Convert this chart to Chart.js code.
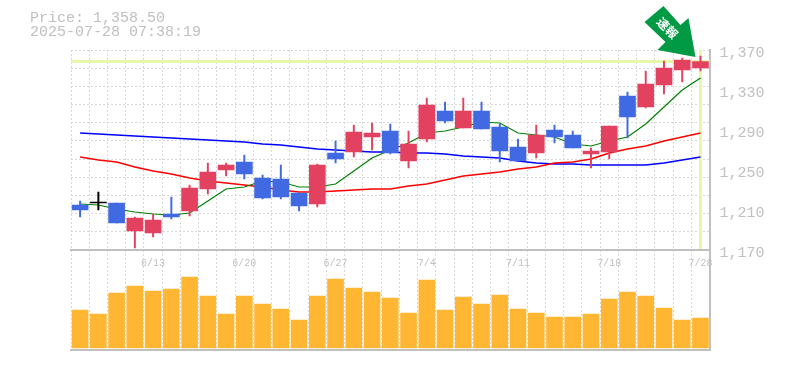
<!DOCTYPE html>
<html>
<head>
<meta charset="utf-8">
<script src="https://cdn.jsdelivr.net/npm/chart.js@4"></script>
<style>
  html, body { margin: 0; padding: 0; background: #fff; }
  #wrap { position: relative; width: 785px; height: 370px; }
  #info { position: absolute; left: 30px; top: 12px; font: 15px/14px "Liberation Mono", monospace; color: #c0c0c0; white-space: pre; }
</style>
</head>
<body>
<div id="wrap">
  <canvas id="myChart" width="785" height="370"></canvas>
  <div id="info">Price: 1,358.50
2025-07-28 07:38:19</div>
</div>
<script>
const dates = ['6/9','6/10','6/11','6/12','6/13','6/16','6/17','6/18','6/19','6/20','6/23','6/24','6/25','6/26','6/27','6/30','7/1','7/2','7/3','7/4','7/7','7/8','7/9','7/10','7/11','7/14','7/15','7/16','7/17','7/18','7/22','7/23','7/24','7/25','7/28'];
const shownDates = ['6/13','6/20','6/27','7/4','7/11','7/18','7/28'];
const priceTicks = [1370, 1330, 1290, 1250, 1210, 1170];

const opens =  [1215,1217,1217,1189,1187,1206,1209,1231,1250,1258,1242,1241,1227,1216,1267,1268,1283,1289,1259,1281,1309,1292,1309,1293,1273,1267,1290,1285,1266,1268,1324,1313,1335,1350,1352];
const closes = [1210,1217,1197,1202,1200,1203,1232,1248,1255,1246,1222,1223,1214,1255,1261,1288,1287,1267,1276,1315,1299,1309,1291,1269,1259,1285,1283,1272,1269,1294,1303,1336,1352,1360,1358.5];
const highs =  [1219,1228,1217,1203,1206,1223,1235,1257,1257,1265,1245,1255,1227,1256,1279,1295,1297,1296,1289,1322,1318,1322,1318,1296,1281,1295,1295,1289,1272,1294,1328,1349,1359,1362,1364];
const lows =   [1203,1210,1197,1172,1183,1201,1204,1226,1244,1241,1221,1221,1209,1213,1257,1263,1270,1266,1252,1278,1297,1292,1291,1258,1259,1262,1277,1272,1252,1261,1282,1312,1326,1338,1349];

const maShort = [1216,1215,1211,1208,1206,1205,1207,1219,1231,1233,1239,1238,1233,1233,1236,1249,1262,1270,1277,1287,1289,1293,1298,1297,1287,1285,1283,1276,1274,1279,1283,1296,1313,1330,1342];
const maMid =   [1263,1260,1258,1253,1249,1246,1242,1239,1237,1235,1233,1230,1228,1228,1229,1230,1231,1231,1234,1236,1240,1244,1246,1248,1251,1253,1257,1258,1261,1267,1271,1274,1279,1283,1287];
const maLong =  [1287,1286,1285,1284,1283,1282,1281,1280,1279,1278,1276,1275,1273,1271,1270,1269,1268,1268,1267,1267,1266,1264,1263,1262,1259,1257,1256,1256,1255,1255,1255,1255,1257,1260,1263];

const volumes = [38,34,55,62,57,59,71,52,34,52,44,39,28,52,69,60,56,50,35,68,38,51,44,53,39,35,31,31,34,49,56,52,40,28,30];

const lastPrice = 1358.5;
const UP = '#e24260', DOWN = '#4169e1', FLAT = '#000000';
const GRID = '#d8d8d8', AXIS = '#c0c0c0', TEXT = '#c0c0c0', MARK = '#e6f6ab';

const candleColors = opens.map((o, i) => closes[i] > o ? UP : closes[i] < o ? DOWN : FLAT);

// last price cross behind the candles, arrow on top of everything
const markers = {
  id: 'markers',
  beforeDatasetsDraw(chart) {
    const { ctx, chartArea: a, scales: { x, y } } = chart;
    ctx.save();
    ctx.fillStyle = MARK;
    ctx.fillRect(a.left, Math.round(y.getPixelForValue(lastPrice)) - 2, a.width, 3);
    ctx.fillRect(Math.round(x.getPixelForValue(dates[dates.length - 1])) - 1, a.top, 3, y.getPixelForValue(1171) - a.top);
    ctx.fillStyle = AXIS;
    ctx.fillRect(a.left - 1, a.bottom - 1, a.width + 2, 2);
    ctx.restore();
  },
  afterDraw(chart) {
    const { ctx, scales: { x, y } } = chart;
    const tipX = x.getPixelForValue(dates[dates.length - 1]) - 5;
    const tipY = y.getPixelForValue(1370) + 7;
    ctx.save();
    ctx.translate(tipX, tipY);
    ctx.fillStyle = '#009944';
    ctx.beginPath();
    [[0,0],[-38,-7],[-30,-15],[-51,-35],[-32,-51],[-15,-32],[-7,-39]].forEach(p => ctx.lineTo(p[0], p[1]));
    ctx.closePath();
    ctx.fill();
    ctx.translate(-28, -29);
    ctx.rotate(Math.PI / 4);
    ctx.fillStyle = '#ffffff';
    ctx.font = 'bold 12px "Noto Sans CJK JP"';
    ctx.textAlign = 'center';
    ctx.textBaseline = 'middle';
    ctx.fillText('速報', 0, 0);
    ctx.restore();
  }
};

new Chart(document.getElementById('myChart'), {
  type: 'bar',
  data: {
    labels: dates,
    datasets: [
      { data: opens.map((o, i) => [o, closes[i]]), backgroundColor: candleColors, barThickness: 16, minBarLength: 1, grouped: false, order: 1 },
      { data: lows.map((l, i) => [l, highs[i]]), backgroundColor: candleColors, barThickness: 1.3, grouped: false, order: 2 },
      { type: 'line', data: maShort, borderColor: '#008000', borderWidth: 1.2, pointRadius: 0, order: 3 },
      { type: 'line', data: maMid, borderColor: '#ff0000', borderWidth: 1.5, pointRadius: 0, order: 4 },
      { type: 'line', data: maLong, borderColor: '#0000ff', borderWidth: 1.5, pointRadius: 0, order: 5 },
      { data: volumes, yAxisID: 'yVol', backgroundColor: '#ffb733', barThickness: 16, grouped: false, order: 6 }
    ]
  },
  options: {
    responsive: false,
    animation: false,
    layout: { padding: { left: 71, top: 50, right: 0, bottom: 20 } },
    plugins: { legend: { display: false }, tooltip: { enabled: false } },
    scales: {
      x: {
        position: { y: 1170 },
        offset: true,
        border: { display: true, color: AXIS, width: 2, dash: [2, 2] },
        grid: { offset: true, color: GRID, lineWidth: 1, tickLength: 0, drawTicks: false, z: -1 },
        ticks: {
          autoSkip: false, maxRotation: 0, padding: 7,
          color: TEXT, font: { family: '"Liberation Mono"', size: 10 },
          callback(v) { const d = this.getLabelForValue(v); return shownDates.includes(d) ? d : ''; }
        }
      },
      y: {
        position: 'right',
        min: 1070, max: 1370,
        afterFit(s) { s.width = 75.4; },
        afterBuildTicks(s) { s.ticks = priceTicks.map(value => ({ value })); },
        border: { display: true, color: AXIS, width: 2 },
        grid: { display: false },
        ticks: {
          padding: 2, labelOffset: 3, color: TEXT, font: { family: '"Liberation Mono"', size: 15 },
          callback: v => v.toLocaleString('en-US')
        }
      },
      yGrid: {
        position: 'left',
        min: 0, max: 16.5,
        reverse: true,
        afterFit(s) { s.width = 0; },
        border: { display: false, dash: [2, 2] },
        ticks: { display: false, stepSize: 1 },
        grid: {
          drawTicks: false,
          z: -1,
          color: c => c.tick.value <= 11 ? GRID : 'transparent'
        }
      },
      yVol: {
        display: false,
        min: -2, max: 298
      }
    },
    datasets: { line: { tension: 0 } }
  },
  plugins: [markers]
});
</script>
</body>
</html>
